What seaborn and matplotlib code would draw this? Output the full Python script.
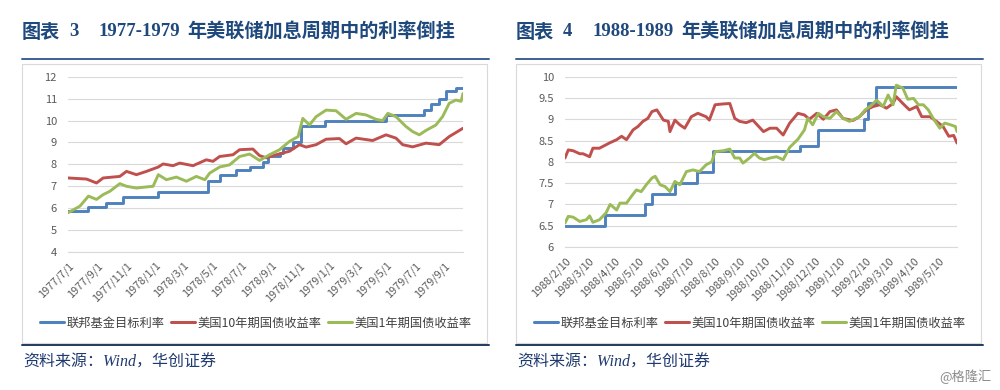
import pandas as pd
import matplotlib.pyplot as plt
import seaborn as sns
from matplotlib.lines import Line2D
from matplotlib.patches import Rectangle
from matplotlib.ticker import MultipleLocator, FormatStrFormatter

# ---------------- 图表 3: 1977-1979 ----------------
fed77_dates = ['1977-07-01', '1977-08-13', '1977-09-19', '1977-10-25', '1978-01-07', '1978-04-21',
               '1978-05-16', '1978-06-20', '1978-07-18', '1978-08-15', '1978-08-26', '1978-09-19',
               '1978-09-26', '1978-10-17', '1978-11-04', '1978-12-23', '1979-05-01', '1979-07-21',
               '1979-08-04', '1979-08-21', '1979-09-04', '1979-09-25', '1979-10-10']
fed77_rate = [5.875, 6.06, 6.25, 6.5, 6.75, 7.25, 7.5, 7.75, 7.875, 8.125, 8.375, 8.5,
              8.75, 9.0, 9.75, 10.0, 10.25, 10.5, 10.75, 11.0, 11.375, 11.5, 11.5]

t10_77_dates = ['1977-07-01', '1977-08-09', '1977-08-30', '1977-09-13', '1977-10-18', '1977-11-01',
                '1977-11-22', '1977-12-13', '1978-01-07', '1978-01-17', '1978-02-07', '1978-02-21',
                '1978-03-21', '1978-04-18', '1978-05-02', '1978-05-16', '1978-06-13', '1978-06-27',
                '1978-07-25', '1978-08-08', '1978-08-22', '1978-09-12', '1978-10-10', '1978-10-31',
                '1978-11-14', '1978-12-05', '1978-12-26', '1979-01-23', '1979-02-06', '1979-02-27',
                '1979-04-03', '1979-05-01', '1979-05-22', '1979-06-05', '1979-06-26', '1979-07-24',
                '1979-08-21', '1979-09-11', '1979-10-10']
t10_77_vals = [7.38, 7.33, 7.15, 7.38, 7.45, 7.68, 7.53, 7.68, 7.88, 8.02, 7.94, 8.06,
               7.94, 8.21, 8.14, 8.36, 8.44, 8.67, 8.7, 8.4, 8.3, 8.44, 8.6, 8.9,
               8.79, 8.9, 9.15, 9.18, 8.94, 9.2, 9.09, 9.35, 9.2, 8.9, 8.8, 8.97,
               8.9, 9.27, 9.65]

t1_77_dates = ['1977-07-01', '1977-07-26', '1977-08-13', '1977-08-30', '1977-09-13', '1977-09-27',
               '1977-10-18', '1977-11-01', '1977-11-22', '1977-12-13', '1977-12-27', '1978-01-07',
               '1978-01-24', '1978-02-14', '1978-03-07', '1978-03-28', '1978-04-15', '1978-04-25',
               '1978-05-16', '1978-06-06', '1978-06-27', '1978-07-18', '1978-08-08', '1978-08-29',
               '1978-09-19', '1978-10-10', '1978-10-28', '1978-11-07', '1978-11-21', '1978-12-05',
               '1978-12-26', '1979-01-16', '1979-02-06', '1979-02-27', '1979-03-20', '1979-04-10',
               '1979-04-24', '1979-05-05', '1979-05-22', '1979-06-12', '1979-06-26', '1979-07-10',
               '1979-07-24', '1979-08-14', '1979-08-28', '1979-09-11', '1979-09-25', '1979-10-06',
               '1979-10-10']
t1_77_vals = [5.79, 6.09, 6.55, 6.4, 6.62, 6.77, 7.12, 7.0, 6.92, 6.97, 7.0, 7.53,
              7.3, 7.42, 7.23, 7.45, 7.3, 7.6, 7.88, 7.98, 8.36, 8.47, 8.18, 8.44,
              8.67, 9.05, 9.27, 10.1, 9.8, 10.18, 10.48, 10.45, 10.06, 10.33, 10.26, 10.06,
              10.0, 10.33, 10.18, 9.73, 9.5, 9.35, 9.55, 9.8, 10.18, 10.79, 10.94, 10.88,
              11.24]

ticks77 = ['1977/7/1', '1977/9/1', '1977/11/1', '1978/1/1', '1978/3/1', '1978/5/1', '1978/7/1',
           '1978/9/1', '1978/11/1', '1979/1/1', '1979/3/1', '1979/5/1', '1979/7/1', '1979/9/1']

# ---------------- 图表 4: 1988-1989 ----------------
fed88_dates = ['1988-02-10', '1988-03-30', '1988-05-18', '1988-05-26', '1988-06-23', '1988-07-20',
               '1988-08-09', '1988-11-23', '1988-12-15', '1989-02-08', '1989-02-14', '1989-02-23',
               '1989-06-02']
fed88_rate = [6.5, 6.75, 7.0, 7.25, 7.5, 7.75, 8.25, 8.375, 8.75, 9.0, 9.375, 9.75, 9.75]

t10_88_dates = ['1988-02-10', '1988-02-14', '1988-02-20', '1988-02-28', '1988-03-03', '1988-03-11',
                '1988-03-15', '1988-03-23', '1988-03-31', '1988-04-05', '1988-04-13', '1988-04-19',
                '1988-04-25', '1988-05-03', '1988-05-09', '1988-05-15', '1988-05-21', '1988-05-26',
                '1988-06-01', '1988-06-09', '1988-06-15', '1988-06-17', '1988-06-23', '1988-06-29',
                '1988-07-05', '1988-07-13', '1988-07-21', '1988-07-31', '1988-08-04', '1988-08-11',
                '1988-08-21', '1988-08-29', '1988-09-04', '1988-09-10', '1988-09-18', '1988-09-26',
                '1988-10-09', '1988-10-17', '1988-10-25', '1988-11-02', '1988-11-10', '1988-11-20',
                '1988-11-28', '1988-12-04', '1988-12-13', '1988-12-21', '1988-12-29', '1989-01-06',
                '1989-01-14', '1989-01-26', '1989-02-03', '1989-02-12', '1989-02-20', '1989-02-28',
                '1989-03-08', '1989-03-16', '1989-03-20', '1989-03-28', '1989-04-05', '1989-04-14',
                '1989-04-20', '1989-04-30', '1989-05-08', '1989-05-16', '1989-05-23', '1989-05-29',
                '1989-06-02']
t10_88_vals = [8.09, 8.28, 8.26, 8.19, 8.19, 8.12, 8.32, 8.32, 8.4, 8.45, 8.52, 8.6,
               8.52, 8.75, 8.83, 8.95, 9.02, 9.18, 9.22, 8.98, 8.95, 8.71, 8.98, 8.87,
               8.79, 9.06, 9.14, 9.06, 8.98, 9.34, 9.36, 9.37, 9.02, 8.95, 8.92, 8.98,
               8.71, 8.79, 8.79, 8.63, 8.91, 9.14, 9.1, 9.0, 9.14, 9.0, 9.18, 9.22,
               9.02, 8.97, 9.06, 9.23, 9.3, 9.34, 9.26, 9.37, 9.53, 9.37, 9.22, 9.3,
               9.06, 9.06, 8.95, 8.83, 8.6, 8.62, 8.44]

t1_88_dates = ['1988-02-10', '1988-02-14', '1988-02-20', '1988-02-28', '1988-03-07', '1988-03-11',
               '1988-03-15', '1988-03-23', '1988-03-31', '1988-04-05', '1988-04-13', '1988-04-17',
               '1988-04-25', '1988-05-01', '1988-05-07', '1988-05-13', '1988-05-19', '1988-05-26',
               '1988-05-30', '1988-06-05', '1988-06-11', '1988-06-17', '1988-06-23', '1988-06-29',
               '1988-07-07', '1988-07-15', '1988-07-23', '1988-07-31', '1988-08-07', '1988-08-11',
               '1988-08-21', '1988-08-29', '1988-09-04', '1988-09-10', '1988-09-14', '1988-09-22',
               '1988-09-28', '1988-10-04', '1988-10-10', '1988-10-17', '1988-10-25', '1988-11-02',
               '1988-11-10', '1988-11-20', '1988-11-28', '1988-12-02', '1988-12-08', '1988-12-15',
               '1988-12-21', '1988-12-29', '1989-01-06', '1989-01-14', '1989-01-22', '1989-02-03',
               '1989-02-10', '1989-02-16', '1989-02-24', '1989-03-04', '1989-03-10', '1989-03-16',
               '1989-03-20', '1989-03-28', '1989-04-03', '1989-04-10', '1989-04-16', '1989-04-22',
               '1989-04-28', '1989-05-04', '1989-05-12', '1989-05-18', '1989-05-25', '1989-05-31',
               '1989-06-02']
t1_88_vals = [6.56, 6.72, 6.7, 6.6, 6.64, 6.73, 6.58, 6.64, 6.8, 7.0, 6.87, 7.03,
              7.03, 7.19, 7.34, 7.3, 7.46, 7.62, 7.66, 7.46, 7.42, 7.3, 7.54, 7.46,
              7.77, 7.81, 7.77, 7.93, 8.0, 8.24, 8.26, 8.3, 8.09, 8.09, 7.97, 8.09,
              8.2, 8.09, 8.05, 8.09, 8.12, 8.05, 8.34, 8.53, 8.75, 9.02, 8.87, 9.14,
              9.06, 9.02, 9.18, 9.02, 8.95, 9.06, 9.22, 9.3, 9.45, 9.3, 9.57, 9.34,
              9.8, 9.73, 9.47, 9.49, 9.34, 9.34, 9.22, 9.02, 8.79, 8.91, 8.87, 8.83,
              8.71]

ticks88 = ['1988/2/10', '1988/3/10', '1988/4/10', '1988/5/10', '1988/6/10', '1988/7/10',
           '1988/8/10', '1988/9/10', '1988/10/10', '1988/11/10', '1988/12/10', '1989/1/10',
           '1989/2/10', '1989/3/10', '1989/4/10', '1989/5/10']

series_labels = ['联邦基金目标利率', '美国10年期国债收益率', '美国1年期国债收益率']
colors = ['#4f81bd', '#c0504d', '#9bbb59']

sns.set_style('white')
plt.rcParams['font.family'] = ['Noto Sans CJK SC', 'DejaVu Sans']

NAVY = '#1f497d'
GRID = '#d9d9d9'
TICK = '#595959'


def to_df(dates, vals):
    return pd.DataFrame({'date': pd.to_datetime(dates), 'value': vals})


def draw_panel(ax, fed, t10, t1, ticks, ylim, ystep, fmt):
    sns.lineplot(data=fed, x='date', y='value', ax=ax, color=colors[0], lw=2.1,
                 drawstyle='steps-post')
    sns.lineplot(data=t10, x='date', y='value', ax=ax, color=colors[1], lw=2.1)
    sns.lineplot(data=t1, x='date', y='value', ax=ax, color=colors[2], lw=2.1)
    ax.set_xlim(fed['date'].iloc[0], fed['date'].iloc[-1])
    ax.set_ylim(*ylim)
    ax.yaxis.set_major_locator(MultipleLocator(ystep))
    ax.yaxis.set_major_formatter(FormatStrFormatter(fmt))
    tick_dates = pd.to_datetime(ticks, format='%Y/%m/%d')
    ax.set_xticks(tick_dates)
    ax.set_xticklabels(ticks, rotation=45, ha='right', rotation_mode='anchor')
    ax.set_xlabel('')
    ax.set_ylabel('')
    ax.grid(axis='y', color=GRID, lw=0.8)
    ax.set_axisbelow(True)
    for s in ['top', 'right', 'left']:
        ax.spines[s].set_visible(False)
    ax.spines['bottom'].set_color(GRID)
    ax.tick_params(axis='x', length=4, color=GRID, labelsize=7.8, labelcolor=TICK, pad=2)
    ax.tick_params(axis='y', length=0, labelsize=8, labelcolor=TICK, pad=8)
    ax.patch.set_alpha(0)


fig = plt.figure(figsize=(10, 3.9), dpi=100)
ax1 = fig.add_axes([0.068, 0.354, 0.395, 0.449])
ax2 = fig.add_axes([0.565, 0.3667, 0.392, 0.4367])

draw_panel(ax1, to_df(fed77_dates, fed77_rate), to_df(t10_77_dates, t10_77_vals),
           to_df(t1_77_dates, t1_77_vals), ticks77, (4, 12), 1, '%g')
draw_panel(ax2, to_df(fed88_dates, fed88_rate), to_df(t10_88_dates, t10_88_vals),
           to_df(t1_88_dates, t1_88_vals), ticks88, (6, 10), 0.5, '%g')


def px(x, y):
    return x / 1000, 1 - y / 390


# frames, rules and text for both panels
for x0, x1, num, years in [(22, 487, '3', '1977-1979'), (516, 981, '4', '1988-1989')]:
    bx, by = px(x0, 343)
    fig.add_artist(Rectangle((bx, by), (x1 - x0) / 1000, (343 - 64) / 390,
                             fill=False, ec=GRID, lw=0.8, transform=fig.transFigure))
    fig.add_artist(Line2D([px(x0, 0)[0], px(x1 + 2, 0)[0]], [px(0, 59)[1]] * 2,
                          color='#3d5f94', lw=1.4, transform=fig.transFigure))
    fig.add_artist(Line2D([px(x0, 0)[0], px(x1 + 2, 0)[0]], [px(0, 345)[1]] * 2,
                          color='#1f3a5f', lw=1.4, transform=fig.transFigure))
    ty = px(0, 32)[1]
    fig.text(px(x0, 0)[0], ty, '图表', fontsize=13.8, fontweight='bold', color=NAVY, va='center')
    fig.text(px(x0 + 47, 0)[0], ty, num, fontsize=13.5, fontweight='bold', color=NAVY,
             va='center', family='Liberation Serif')
    fig.text(px(x0 + 77, 0)[0], ty, years, fontsize=13.5, fontweight='bold', color=NAVY,
             va='center', family='Liberation Serif')
    fig.text(px(x0 + 165, 0)[0], ty, '年美联储加息周期中的利率倒挂', fontsize=13.8,
             fontweight='bold', color=NAVY, va='center')
    fig.text(px(x0 + 1, 0)[0], px(0, 363)[1], '资料来源：Wind，华创证券', fontsize=11.5,
             color='#1f3a6f', va='center', style='italic',
             family=['Liberation Serif', 'Noto Sans CJK SC'])

handles = [Line2D([], [], color=c, lw=2.2) for c in colors]
for cx in [256, 750]:
    fig.legend(handles, series_labels, loc='center', bbox_to_anchor=px(cx, 323),
               bbox_transform=fig.transFigure, ncol=3, frameon=False, fontsize=8.8,
               handlelength=2.0, handletextpad=0.2, columnspacing=0.5, labelcolor='#404040')

fig.text(px(992, 0)[0], px(0, 377)[1], '@格隆汇', fontsize=9.5, color='#8c8c8c',
         ha='right', va='center')

fig.savefig('out.png', dpi=100)
